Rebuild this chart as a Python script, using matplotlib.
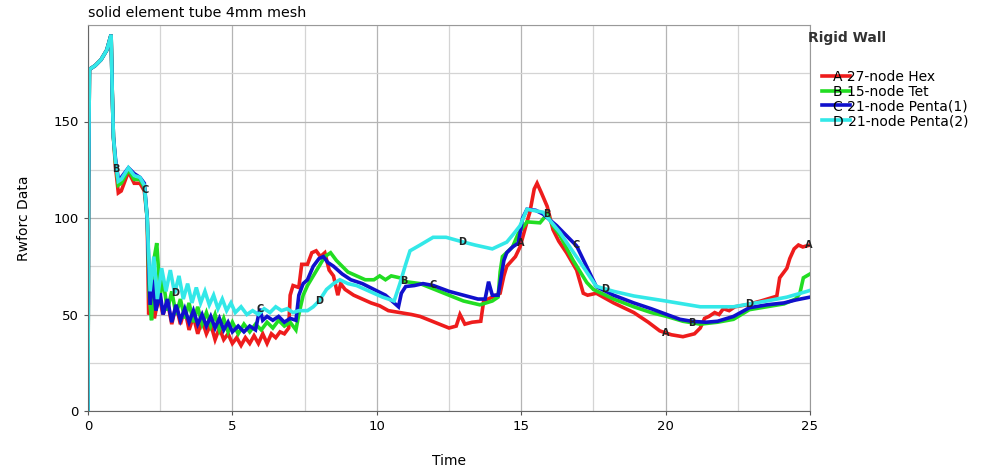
import numpy as np
import matplotlib.pyplot as plt
from matplotlib.lines import Line2D

# ---- data ----
a_t = [0, 0.02, 0.05, 0.25, 0.45, 0.65, 0.8, 0.84, 0.88, 0.95, 1.05, 1.15, 1.4, 1.6, 1.8, 1.95, 2.05,
       2.1, 2.2, 2.3, 2.45, 2.6, 2.75, 2.9, 3.05, 3.2, 3.35, 3.5, 3.65, 3.8, 3.95, 4.1, 4.25, 4.4,
       4.55, 4.7, 4.85, 5.0, 5.15, 5.3, 5.45, 5.6, 5.75, 5.9, 6.05, 6.2, 6.35, 6.5, 6.65, 6.8, 6.95,
       7.0, 7.1, 7.3, 7.4, 7.6, 7.75, 7.9, 8.05, 8.2, 8.35, 8.5, 8.65, 8.75, 8.9, 9.2, 9.5, 9.8,
       10.1, 10.4, 10.8, 11.2, 11.5, 12.0, 12.5, 12.75, 12.88, 13.05, 13.3, 13.6, 13.7, 14.0, 14.27,
       14.4, 14.5, 14.8, 14.96, 15.2, 15.3, 15.45, 15.55, 15.7, 15.9, 16.1, 16.3, 16.57, 16.92,
       17.15, 17.3, 17.6, 18.2, 18.9, 19.4, 19.8, 20.2, 20.6, 21.0, 21.2, 21.35, 21.5, 21.7, 21.85,
       22.0, 22.2, 22.4, 22.8, 23.3, 23.85, 23.95, 24.1, 24.2, 24.3, 24.45, 24.6, 24.75, 25.0]
a_y = [0, 120, 177, 179, 182, 187, 195, 165, 142, 127, 113, 114, 124, 118, 118, 114, 100,
       50, 58, 48, 60, 50, 57, 45, 55, 45, 53, 42, 49, 40, 47, 40, 45, 37,
       43, 37, 40, 35, 38, 34, 38, 35, 39, 35, 40, 35, 40, 38, 41, 40, 43,
       60, 65, 64, 76, 76, 82, 83, 80, 82, 73, 70, 60, 66, 63, 60, 58, 56,
       54.5, 52, 51, 50, 49, 46, 43, 44, 50, 45, 46, 46.5, 57, 59, 61,
       70, 75, 80, 85, 98, 103, 115, 118, 113, 106, 94, 88, 82, 73,
       61, 60, 61, 56, 51, 46, 41.5, 39.5, 38.5, 40, 43, 48, 49, 51, 50,
       53, 52, 54, 55, 57, 59.5, 69, 72, 74, 79, 84, 86, 85, 86]

b_t = [0, 0.02, 0.05, 0.25, 0.45, 0.65, 0.8, 0.84, 0.88, 0.95, 1.05, 1.15, 1.4, 1.6, 1.8, 1.95, 2.05,
       2.12, 2.2, 2.3, 2.38, 2.5, 2.6, 2.75, 2.9, 3.05, 3.2, 3.35, 3.5, 3.65, 3.8, 3.95, 4.1, 4.25,
       4.4, 4.55, 4.7, 4.85, 5.0, 5.2, 5.4, 5.6, 5.8, 6.0, 6.2, 6.4, 6.6, 6.8, 7.0, 7.2, 7.3, 7.45,
       7.6, 7.8, 8.0, 8.2, 8.4, 8.6, 8.8, 9.0, 9.3, 9.6, 9.9, 10.1, 10.3, 10.5, 10.8, 11.0, 11.5,
       12.0, 12.5, 13.0, 13.57, 14.0, 14.2, 14.27, 14.35, 14.7, 14.9, 15.2, 15.65, 15.9, 16.1,
       16.34, 16.8, 17.27, 17.5, 18.2, 18.9, 19.5, 20.04, 20.6, 21.2, 21.8, 22.35, 22.9, 23.5,
       24.1, 24.5, 24.65, 24.77, 25.0]
b_y = [0, 120, 177, 179, 182, 187, 195, 165, 142, 129, 117, 118, 125, 120, 120, 116, 100,
       60, 47, 80, 87, 60, 68, 52, 62, 50, 58, 48, 56, 46, 54, 45, 51, 44,
       50, 42, 48, 41, 46, 40, 45, 41, 45, 42, 46, 43, 47, 44, 46, 42, 50, 60,
       65, 70, 75, 80, 82, 78, 75, 72, 70, 68, 68, 70, 68, 70, 69, 67, 66,
       63, 60, 57, 55, 57, 59, 72, 80, 85, 92, 98, 97.5, 102, 96,
       91, 78, 66.6, 63, 58, 54, 51, 49, 46.5, 45, 46, 47.5, 52.5, 54,
       55.5, 58, 61, 69, 71]

c_t = [0, 0.02, 0.05, 0.25, 0.45, 0.65, 0.8, 0.84, 0.88, 0.95, 1.05, 1.15, 1.4, 1.6, 1.8, 1.95, 2.05,
       2.15, 2.25, 2.35, 2.5, 2.6, 2.75, 2.9, 3.05, 3.2, 3.35, 3.5, 3.65, 3.8, 3.95, 4.1, 4.25,
       4.4, 4.55, 4.7, 4.85, 5.0, 5.2, 5.4, 5.6, 5.8, 5.95, 6.05, 6.2, 6.4, 6.6, 6.8, 7.0, 7.2,
       7.3, 7.45, 7.6, 7.8, 8.0, 8.15, 8.3, 8.5, 8.8, 9.1, 9.5, 9.9, 10.3, 10.6, 10.75, 10.85,
       11.0, 11.3, 11.6, 11.96, 12.5, 13.0, 13.5, 13.75, 13.87, 14.0, 14.2, 14.4, 14.5, 14.7,
       14.9, 15.05, 15.2, 15.5, 15.76, 16.23, 16.92, 17.6, 18.2, 18.9, 19.5, 20.04, 20.5, 20.95,
       21.4, 21.8, 22.35, 22.9, 23.5, 24.1, 24.5, 25.0]
c_y = [0, 120, 177, 179, 182, 187, 195, 165, 142, 131, 120, 121, 126, 123, 121, 118, 100,
       55, 68, 52, 61, 50, 58, 46, 55, 47, 53, 46, 52, 45, 50, 44, 49,
       43, 48, 42, 46, 41, 44, 41, 44, 42, 53, 47, 49, 47, 49, 46, 48, 47,
       60, 66, 68, 75, 79, 80, 77, 75, 71, 68, 66, 63, 60, 56, 54, 61,
       64.5, 65, 66, 65, 62, 60, 58, 58, 67, 60, 60, 78, 82, 85,
       87, 100, 104.5, 104, 102, 96, 85.5, 64.5, 60, 56, 53, 50, 47.5, 46.4,
       46, 46.5, 49, 53.5, 55, 56, 57.5, 59]

d_t = [0, 0.02, 0.05, 0.25, 0.45, 0.65, 0.8, 0.84, 0.88, 0.95, 1.05, 1.15, 1.4, 1.6, 1.8, 1.95, 2.05,
       2.15, 2.28, 2.4, 2.55, 2.7, 2.85, 3.0, 3.15, 3.3, 3.45, 3.6, 3.75, 3.9, 4.05, 4.2, 4.35,
       4.5, 4.65, 4.8, 4.95, 5.1, 5.3, 5.5, 5.7, 5.9, 6.1, 6.3, 6.5, 6.7, 6.9, 7.1, 7.3, 7.6,
       7.8, 8.0, 8.26, 8.5, 8.72, 9.0, 9.3, 9.6, 9.9, 10.2, 10.6, 10.8, 11.0, 11.15, 11.5, 11.95,
       12.4, 12.88, 13.4, 14.0, 14.5, 14.75, 14.96, 15.2, 15.76, 16.34, 17.0, 17.6, 18.2, 18.9,
       20.0, 21.2, 22.35, 23.5, 24.2, 24.9, 25.0]
d_y = [0, 120, 177, 179, 182, 187, 195, 165, 142, 130, 119, 120, 126, 122, 121, 117, 100,
       62, 80, 58, 74, 62, 73, 61, 70, 58, 66, 56, 64, 56, 62, 55, 60,
       53, 58, 52, 56, 51, 54, 50, 52, 50, 53, 51, 54, 52, 53, 51, 52, 52,
       54, 57, 63, 66, 68, 66, 65, 63, 61, 59, 57, 66, 76, 83, 86, 90,
       90, 88, 86, 84, 87.5, 92, 96, 104.5, 103, 92.5, 78, 64.6, 62, 59.6,
       57, 54, 54, 57, 59, 62, 62.5]

series_names = ["27-node Hex", "15-node Tet", "21-node Penta(1)", "21-node Penta(2)"]
series_tags = ["A", "B", "C", "D"]
colors = ["#ee1c1c", "#22dd22", "#1010cc", "#33e8e8"]

# curve letters: (series index, time)
tag_times = [(1, 0.98), (2, 1.97), (3, 3.0), (2, 5.95), (3, 8.0), (1, 10.95), (2, 11.95),
             (3, 12.95), (0, 15.0), (1, 15.9), (2, 16.9), (3, 17.9), (0, 20.0), (1, 20.9),
             (3, 22.9), (0, 24.95)]

ts = [a_t, b_t, c_t, d_t]
ys = [a_y, b_y, c_y, d_y]

fig = plt.figure(figsize=(9.87, 4.72), dpi=100)
ax = fig.add_axes([88 / 987, 61 / 472, 722 / 987, 386 / 472])

for t, y, col in zip(ts, ys, colors):
    ax.plot(t, y, color=col, lw=2.6, solid_joinstyle="miter")

for i, tt in tag_times:
    yy = np.interp(tt, ts[i], ys[i])
    ax.text(tt, yy, series_tags[i], fontsize=7, color="#222222",
            ha="center", va="center", fontweight="bold")

ax.set_xlim(0, 25)
ax.set_ylim(0, 200)
ax.set_xticks(np.arange(0, 26, 5))
ax.set_xticks(np.arange(0, 25.1, 2.5), minor=True)
ax.set_yticks([0, 50, 100, 150])
ax.set_yticks(np.arange(0, 201, 25), minor=True)
ax.grid(True, which="major", color="#b4b4b4", lw=0.9)
ax.grid(True, which="minor", color="#d4d4d4", lw=0.9)
ax.set_axisbelow(True)
ax.tick_params(which="both", length=3, width=0.8, color="#555555", labelsize=9.5)
ax.tick_params(which="minor", length=0)
for s in ["left", "bottom"]:
    ax.spines[s].set_color("#666666")
for s in ["top", "right"]:
    ax.spines[s].set_color("#999999")

ax.set_title("solid element tube 4mm mesh", loc="left", fontsize=10.3, pad=6)
ax.set_xlabel("Time", fontsize=10, labelpad=15)
ax.set_ylabel("Rwforc Data", fontsize=10, labelpad=16)

fig.text(808 / 987, 1 - 38 / 472, "Rigid Wall", fontsize=10, fontweight="bold",
         color="#333333", va="center")
handles = [Line2D([0], [0], color=c, lw=2.6) for c in colors]
labels = [f"{g} {n}" for g, n in zip(series_tags, series_names)]
leg = fig.legend(handles, labels, loc="upper left", bbox_to_anchor=(815 / 987, 1 - 63 / 472),
                 frameon=False, fontsize=10, handlelength=2.0, handletextpad=-1.2,
                 labelspacing=0.05, borderpad=0)

fig.savefig("out.png", dpi=100)
